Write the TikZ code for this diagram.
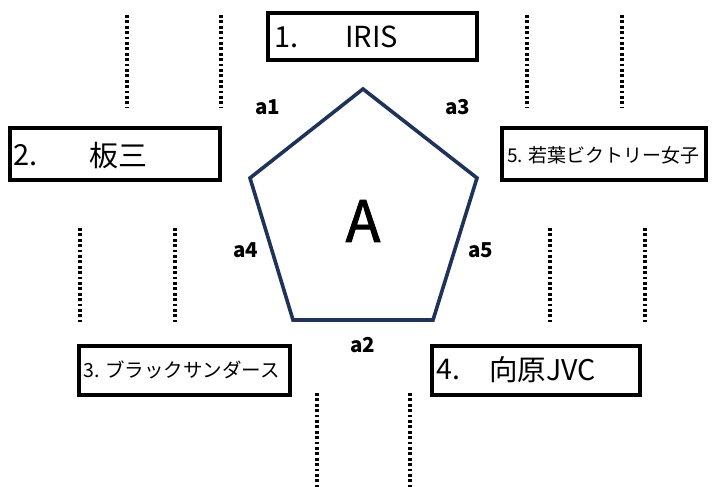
\documentclass[tikz,border=0pt]{standalone}
\usepackage{fontspec}
\setmainfont{Noto Sans CJK JP}
\newfontfamily\medfont[FakeBold=1.6]{Noto Sans CJK JP}
\begin{document}
\begin{tikzpicture}[x=1pt,y=-1pt,
  box/.style={draw=black,line width=3.5pt},
  dotline/.style={line width=3.2pt,dash pattern=on 2.8pt off 2.6pt,black},
  txt/.style={anchor=west,inner sep=0pt,text=black},
  lab/.style={inner sep=0pt,font=\fontsize{20.5}{24}\selectfont\bfseries},
  pent/.style={draw={rgb,255:red,31;green,51;blue,88},line width=3.6pt,line join=miter}]
\useasboundingbox (0,0) rectangle (713,487);
% boxes
\draw[box] (268,13) rectangle (477,60);
\node[txt,font=\fontsize{29}{30}\selectfont] (t1) at (274,37) {1.};
\node[txt,font=\fontsize{29}{30}\selectfont] (t1b) at (345,37) {IRIS};
\draw[box] (10,128) rectangle (220,180);
\node[txt,font=\fontsize{29}{30}\selectfont] (t2) at (13,155) {2.};
\node[txt,font=\fontsize{29}{30}\selectfont] (t2b) at (89,155) {板三};
\draw[box] (502,128) rectangle (706,180);
\node[txt,font=\fontsize{19}{20}\selectfont] (t5) at (507,155) {5. 若葉ビクトリー女子};
\draw[box] (79,346) rectangle (290,395);
\node[txt,font=\fontsize{19.5}{20}\selectfont] (t3) at (83,370) {3. ブラックサンダース};
\draw[box] (432,346) rectangle (640,395);
\node[txt,font=\fontsize{28.5}{29}\selectfont] (t4) at (436,370) {4.};
\node[txt,font=\fontsize{28.5}{29}\selectfont] (t4b) at (489,370) {向原JVC};
% dotted lines
\coordinate (d1a) at (127,15); \coordinate (d1b) at (127,107);
\coordinate (d2a) at (221,15); \coordinate (d2b) at (221,107);
\coordinate (d3a) at (527,15); \coordinate (d3b) at (527,107);
\coordinate (d4a) at (622,15); \coordinate (d4b) at (622,107);
\coordinate (d5a) at (80,228); \coordinate (d5b) at (80,322);
\coordinate (d6a) at (175,228); \coordinate (d6b) at (175,322);
\coordinate (d7a) at (550,228); \coordinate (d7b) at (550,322);
\coordinate (d8a) at (645,228); \coordinate (d8b) at (645,322);
\coordinate (d9a) at (317,393); \coordinate (d9b) at (317,487);
\coordinate (d10a) at (410,393); \coordinate (d10b) at (410,487);
\foreach \i in {1,...,10} {\draw[dotline] (d\i a) -- (d\i b);}
% pentagon
\coordinate (p1) at (363,89);
\coordinate (p2) at (477,178);
\coordinate (p3) at (433,320);
\coordinate (p4) at (293,320);
\coordinate (p5) at (250,178);
\draw[pent] (p1) -- (p2) -- (p3) -- (p4) -- (p5) -- cycle;
\node[inner sep=0pt,font=\medfont\fontsize{57}{58}\selectfont] (A) at (363,221) {A};
\node[lab] (a1) at (268,107) {a1};
\node[lab] (a3) at (458,107) {a3};
\node[lab] (a4) at (246,250) {a4};
\node[lab] (a5) at (481,250) {a5};
\node[lab] (a2) at (363,345) {a2};
\end{tikzpicture}
\end{document}
